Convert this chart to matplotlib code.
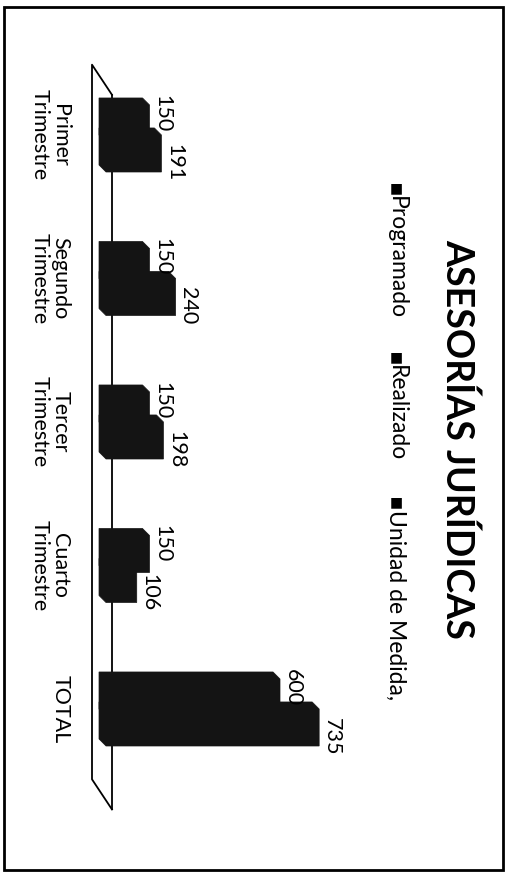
import matplotlib
matplotlib.use("Agg")
import matplotlib.pyplot as plt
from matplotlib.patches import Polygon, Rectangle

# datos de la grafica
categories = ["Primer\nTrimestre", "Segundo\nTrimestre", "Tercer\nTrimestre",
              "Cuarto\nTrimestre", "TOTAL"]
programado = [150, 150, 150, 150, 600]
realizado = [191, 240, 198, 106, 735]
series_names = ["Programado", "Realizado", "Unidad de Medida,"]
title = "ASESORÍAS JURÍDICAS"

W, H = 508, 877
PX_PER_UNIT = 0.29   # pixeles por unidad en el eje de valores
BASE_PX = 99         # pixel x del valor 0
ROW_PX = 143.5       # distancia entre categorias
ROW0_PX = 135        # centro de la primera categoria
DEPTH_PX = 7         # profundidad 3D de las barras


def box3d(ax, y, h, w, dx, dy):
    """Dibuja una barra horizontal con efecto 3D (silueta negra)."""
    top, bot = y - h / 2, y + h / 2
    verts = [(0, top), (w, top), (w + dx, top + dy), (w + dx, bot + dy),
             (dx, bot + dy), (0, bot)]
    ax.add_patch(Polygon(verts, closed=True, fc="#141414", ec="#141414", lw=0.5, zorder=3))


plt.rcParams['font.family'] = ['Lato', 'DejaVu Sans']

fig = plt.figure(figsize=(W / 100, H / 100), dpi=100)
x0_px, x1_px = 80, 420
ylim = (-0.6, 4.8)
y_top = ROW0_PX + ylim[0] * ROW_PX
y_bot = ROW0_PX + ylim[1] * ROW_PX
ax = fig.add_axes([x0_px / W, 1 - y_bot / H, (x1_px - x0_px) / W, (y_bot - y_top) / H])
ax.set_xlim((x0_px - BASE_PX) / PX_PER_UNIT, (x1_px - BASE_PX) / PX_PER_UNIT)
ax.set_ylim(ylim[1], ylim[0])
ax.set_frame_on(False)
ax.set_xticks([])

dx = DEPTH_PX / PX_PER_UNIT
dy = DEPTH_PX / ROW_PX

# piso en perspectiva
n = len(categories)
fx_front = -7 / PX_PER_UNIT
fx_back = 13 / PX_PER_UNIT
ax.plot([fx_back, fx_front, fx_front, fx_back], [-0.28, -0.49, n - 1 + 0.49, n - 1 + 0.70],
        color="black", lw=1.3, zorder=1)
ax.plot([fx_back, fx_back], [-0.28, n - 1 + 0.70], color="black", lw=1.3, zorder=1)

for i in range(n):
    box3d(ax, i - 0.129, 0.258, programado[i], dx, dy)
    box3d(ax, i + 0.08, 0.258, realizado[i], dx, dy)
    ax.annotate(str(programado[i]), (programado[i], i - 0.15), xytext=(14, 0),
                textcoords="offset points", rotation=-90, ha="center", va="center",
                fontsize=15.5)
    ax.annotate(str(realizado[i]), (realizado[i], i + 0.19), xytext=(14, 0),
                textcoords="offset points", rotation=-90, ha="center", va="center",
                fontsize=15.5)

ax.set_yticks(range(n))
ax.set_yticklabels(categories, rotation=-90, ha="right", va="center",
                   multialignment="center", fontsize=15.5, linespacing=1.05)
ax.tick_params(axis="y", length=0, pad=7)

# titulo
fig.text(458 / W, 1 - 439 / H, title, rotation=-90, ha="center", va="center",
         fontsize=27, fontweight="bold")

# leyenda: cuadrito + texto
for name, y_px in zip(series_names, [188, 357, 502]):
    fig.text(396 / W, 1 - y_px / H, "■", ha="center", va="center",
             fontsize=10, family="DejaVu Sans")
    fig.text(396 / W, 1 - (y_px + 8) / H, name, rotation=-90, ha="center", va="top",
             fontsize=16.5)

# marco
fig.add_artist(Rectangle((4 / W, 1 - 870 / H), 499 / W, 863 / H, transform=fig.transFigure,
                         fill=False, lw=2, ec="black"))

fig.savefig("out.png", dpi=100)
